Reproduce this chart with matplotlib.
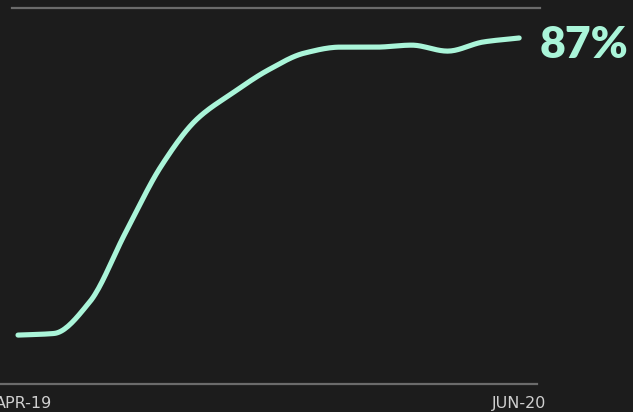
import numpy as np
from matplotlib import pyplot as plt

# monthly share, Apr-19 .. Jun-20
months = ["APR-19", "MAY-19", "JUN-19", "JUL-19", "AUG-19", "SEP-19", "OCT-19",
          "NOV-19", "DEC-19", "JAN-20", "FEB-20", "MAR-20", "APR-20", "MAY-20", "JUN-20"]
share = [12.3, 12.7, 20.6, 38.0, 54.8, 66.6, 73.2, 79.0, 83.2, 84.7, 84.7, 85.2, 83.7, 86.0, 87.0]
end_label = "87%"
top_value = 94.5

BG = "#1c1c1c"
MINT = "#aaf5d9"
RULE = "#6b6b6b"
LABEL = "#cfcfcf"


def monotone_curve(x, y, n=20):
    # monotone cubic hermite, like d3.curveMonotoneX
    x = np.asarray(x, float)
    y = np.asarray(y, float)
    h = np.diff(x)
    d = np.diff(y) / h
    m = np.zeros_like(y)
    for i in range(1, len(y) - 1):
        if d[i - 1] * d[i] > 0:
            w1 = 2 * h[i] + h[i - 1]
            w2 = h[i] + 2 * h[i - 1]
            m[i] = (w1 + w2) / (w1 / d[i - 1] + w2 / d[i])
    m[0] = d[0]
    m[-1] = d[-1]
    xs, ys = [], []
    for i in range(len(h)):
        t = np.linspace(0, 1, n, endpoint=False)
        h00 = 2 * t**3 - 3 * t**2 + 1
        h10 = t**3 - 2 * t**2 + t
        h01 = -2 * t**3 + 3 * t**2
        h11 = t**3 - t**2
        xs.append(x[i] + t * h[i])
        ys.append(h00 * y[i] + h10 * h[i] * m[i] + h01 * y[i + 1] + h11 * h[i] * m[i + 1])
    xs.append([x[-1]])
    ys.append([y[-1]])
    return np.concatenate(xs), np.concatenate(ys)


fig = plt.figure(figsize=(6.33, 4.12), dpi=100, facecolor=BG)
ax = fig.add_axes([0, 0, 1, 1])
ax.set_facecolor(BG)
ax.axis("off")

idx = np.arange(len(share))
ax.set_xlim(-0.503, 17.18)
ax.set_ylim(-7.04, 96.55)

ax.axhline(top_value, xmin=0.019, xmax=0.853, color=RULE, linewidth=1.6)
ax.axhline(0, xmin=0.0, xmax=0.848, color=RULE, linewidth=1.6)

sx, sy = monotone_curve(idx, share)
ax.plot(sx, sy, color=MINT, linewidth=3.7, solid_capstyle="round", solid_joinstyle="round")

ax.text(idx[-1] + 0.58, share[-1] - 1.8, end_label, color=MINT, fontsize=32,
        fontweight="heavy", family="Lato", ha="left", va="center")

# first label sits a touch right of its point, as in the original
for i, nudge in ((0, 0.16), (len(months) - 1, 0.0)):
    ax.text(idx[i] + nudge, -5.0, months[i], color=LABEL, fontsize=11.5, family="DejaVu Sans",
            ha="center", va="center")

fig.savefig("out.png", dpi=100, facecolor=BG)
